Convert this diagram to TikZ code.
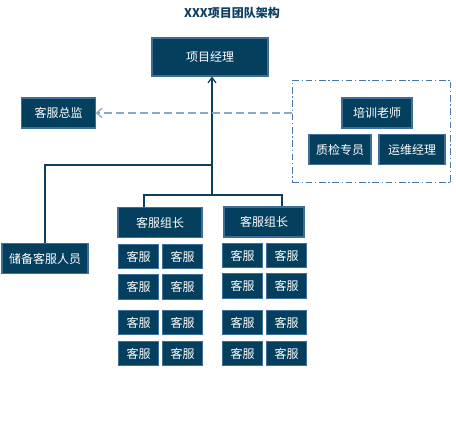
\documentclass[tikz,border=0pt]{standalone}
\usepackage{fontspec}
\setmainfont{Noto Sans CJK SC}
\usetikzlibrary{arrows.meta}
\definecolor{boxfill}{HTML}{053F5E}
\definecolor{boxline}{HTML}{3D6F9A}
\definecolor{conn}{HTML}{0E3F5E}
\definecolor{dashc}{HTML}{8CA8C8}
\definecolor{grpc}{HTML}{4677A6}
\tikzset{
  box/.style={draw=boxline, fill=boxfill, text=white, line width=0.8pt, inner sep=0pt, font=\fontsize{9}{11}\selectfont},
  kf/.style={box, minimum width=30pt, minimum height=18.5pt},
  conline/.style={draw=conn, line width=0.9pt},
}
\begin{document}
\begin{tikzpicture}[x=0.75pt,y=-0.75pt]
\useasboundingbox (0,0) rectangle (456,436);
\node[text=conn, font=\bfseries\fontsize{9}{11}\selectfont] (title) at (232,13) {XXX项目团队架构};
\node[box, minimum width=87pt, minimum height=28.5pt] (pm) at (210,57) {项目经理};
\node[box, minimum width=55pt, minimum height=22.5pt] (kfzj) at (58.5,113) {客服总监};
\node[draw=grpc, line width=0.9pt, dash pattern=on 5pt off 2pt on 1pt off 2pt, minimum width=119pt, minimum height=77pt, inner sep=0pt] (grp) at (371.5,131.5) {};
\node[box, minimum width=52.5pt, minimum height=22.5pt] (px) at (377,113) {培训老师};
\node[box, minimum width=46.5pt, minimum height=23pt] (zj) at (340,149.5) {质检专员};
\node[box, minimum width=49.5pt, minimum height=23pt] (yw) at (412,149.5) {运维经理};
\node[box, minimum width=64.5pt, minimum height=23pt] (cb) at (45,258.5) {储备客服人员};
\node[box, minimum width=63pt, minimum height=22pt] (gl1) at (160,222.5) {客服组长};
\node[box, minimum width=60pt, minimum height=22.5pt] (gl2) at (264,222) {客服组长};
% left group members
\node[kf] (l11) at (138.5,256.5) {客服};
\node[kf] (l12) at (182.5,256.5) {客服};
\node[kf] (l21) at (138.5,287) {客服};
\node[kf] (l22) at (182.5,287) {客服};
\node[kf] (l31) at (138.5,322.5) {客服};
\node[kf] (l32) at (182.5,322.5) {客服};
\node[kf] (l41) at (138.5,353.5) {客服};
\node[kf] (l42) at (182.5,353.5) {客服};
% right group members
\node[kf] (r11) at (242.5,255.5) {客服};
\node[kf] (r12) at (286.5,255.5) {客服};
\node[kf] (r21) at (242.5,286) {客服};
\node[kf] (r22) at (286.5,286) {客服};
\node[kf] (r31) at (242.5,322.5) {客服};
\node[kf] (r32) at (286.5,322.5) {客服};
\node[kf] (r41) at (242.5,353.5) {客服};
\node[kf] (r42) at (286.5,353.5) {客服};
% connectors
\coordinate (j1) at (212,165);
\coordinate (j2) at (212,195);
\coordinate (a1) at (144,195);
\coordinate (a2) at (282,195);
\draw[conline, -{Straight Barb[length=4pt,width=6pt]}] (j2) -- (j2 |- pm.south);
\draw[conline] (cb.north) |- (j1);
\draw[conline] (a1 |- gl1.north) -- (a1) -- (a2) -- (a2 |- gl2.north);
\draw[draw=dashc, line width=1pt, dash pattern=on 6pt off 3pt, -{Straight Barb[length=4pt,width=7pt]}] (grp.west |- kfzj.east) -- (kfzj.east);
\end{tikzpicture}
\end{document}
